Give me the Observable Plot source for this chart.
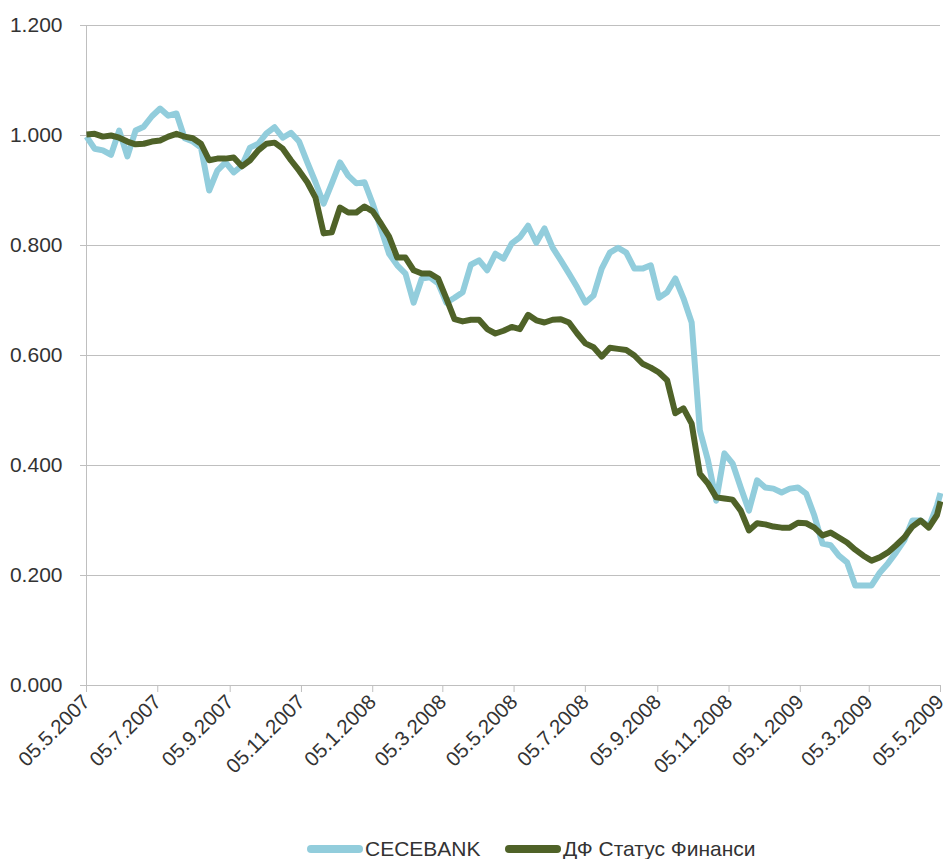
<!DOCTYPE html>
<html>
<head>
<meta charset="utf-8">
<script src="https://cdn.jsdelivr.net/npm/d3@7"></script>
<script src="https://cdn.jsdelivr.net/npm/@observablehq/plot@0.6"></script>
<style>
  body { margin: 0; background: #fff; font-family: "Liberation Sans", Arial, sans-serif; }
  #legend { position: relative; height: 21px; font-size: 21px; color: #333; }
  .item { position: absolute; top: 0; display: flex; align-items: center; height: 21px; white-space: nowrap; }
  .sw { display: inline-block; width: 56px; height: 8px; border-radius: 4px; margin-right: 2px; }
</style>
</head>
<body>
<div id="chart"></div>
<div id="legend"></div>
<script>
// Weekly series, starting 05.5.2007 (last point 05.5.2009)
const startDate = "2007-05-05";
const endDate = "2009-05-05";
const seriesNames = ["CECEBANK", "ДФ Статус Финанси"];
const cecebank = [
  0.998, 0.976, 0.973, 0.965, 1.009, 0.962, 1.009, 1.016, 1.035, 1.049,
  1.036, 1.040, 0.995, 0.989, 0.978, 0.900, 0.936, 0.951, 0.933, 0.945,
  0.978, 0.985, 1.004, 1.015, 0.996, 1.005, 0.989, 0.951, 0.915, 0.876,
  0.913, 0.951, 0.927, 0.913, 0.915, 0.876, 0.831, 0.785, 0.764, 0.749,
  0.696, 0.740, 0.742, 0.731, 0.696, 0.705, 0.715, 0.765, 0.773, 0.755,
  0.785, 0.776, 0.804, 0.815, 0.836, 0.805, 0.831, 0.796, 0.773, 0.749,
  0.724, 0.696, 0.709, 0.758, 0.787, 0.796, 0.787, 0.758, 0.758, 0.764,
  0.705, 0.715, 0.740, 0.704, 0.660, 0.464, 0.409, 0.336, 0.422, 0.404,
  0.360, 0.318, 0.373, 0.360, 0.358, 0.351, 0.358, 0.360, 0.349, 0.309,
  0.258, 0.255, 0.236, 0.224, 0.182, 0.182, 0.182, 0.205, 0.222, 0.242,
  0.264, 0.300, 0.300, 0.289, 0.327, 0.350
];
const statusFinansi = [
  1.002, 1.003, 0.998, 1.000, 0.996, 0.989, 0.984, 0.985, 0.989, 0.991,
  0.998, 1.003, 0.998, 0.995, 0.985, 0.955, 0.958, 0.958, 0.960, 0.944,
  0.955, 0.973, 0.985, 0.987, 0.976, 0.955, 0.936, 0.915, 0.887, 0.822,
  0.824, 0.869, 0.860, 0.860, 0.871, 0.862, 0.840, 0.816, 0.778, 0.778,
  0.755, 0.749, 0.749, 0.740, 0.704, 0.666, 0.662, 0.665, 0.665, 0.648,
  0.640, 0.645, 0.652, 0.648, 0.674, 0.664, 0.660, 0.665, 0.666, 0.660,
  0.640, 0.622, 0.615, 0.598, 0.614, 0.612, 0.610, 0.600, 0.585, 0.578,
  0.569, 0.555, 0.495, 0.504, 0.476, 0.385, 0.367, 0.342, 0.340, 0.338,
  0.318, 0.282, 0.295, 0.293, 0.289, 0.287, 0.287, 0.296, 0.295, 0.287,
  0.273, 0.278, 0.269, 0.260, 0.247, 0.236, 0.227, 0.233, 0.242, 0.255,
  0.269, 0.289, 0.300, 0.287, 0.310, 0.335
];
const colors = ["#92CDDC", "#4F6228"];
const yTicks = [0, 0.2, 0.4, 0.6, 0.8, 1.0, 1.2];
const xTickLabels = ["05.5.2007","05.7.2007","05.9.2007","05.11.2007","05.1.2008","05.3.2008",
  "05.5.2008","05.7.2008","05.9.2008","05.11.2008","05.1.2009","05.3.2009","05.5.2009"];

// build dates: weekly from start, final point on end date
const d0 = new Date(startDate + "T00:00:00Z");
const dEnd = new Date(endDate + "T00:00:00Z");
const dates = cecebank.map((_, i) => i === cecebank.length - 1 ? dEnd : d3.utcDay.offset(d0, 7 * i));
const parseTick = s => { const [d, m, y] = s.split("."); return new Date(Date.UTC(+y, +m - 1, +d)); };
const xTicks = xTickLabels.map(parseTick);
const fmtX = d3.utcFormat("%d.%-m.%Y");

const rows = [];
[cecebank, statusFinansi].forEach((arr, s) => arr.forEach((v, i) => rows.push({date: dates[i], value: v, series: seriesNames[s]})));

const font = "Liberation Sans, Arial, sans-serif";
const chart = Plot.plot({
  width: 943,
  height: 838,
  marginLeft: 86,
  marginRight: 3,
  marginTop: 25,
  marginBottom: 153,
  style: {fontFamily: font, fontSize: "20px", color: "#333", background: "#fff", overflow: "visible"},
  x: {type: "utc", domain: [d0, dEnd]},
  y: {domain: [0, 1.2]},
  color: {domain: seriesNames, range: colors},
  marks: [
    Plot.gridY(yTicks, {stroke: "#bfbfbf", strokeOpacity: 1, strokeWidth: 1}),
    Plot.ruleX([d0], {stroke: "#bfbfbf", strokeWidth: 1}),
    Plot.ruleY([0], {stroke: "#bfbfbf", strokeWidth: 1}),
    Plot.axisY(yTicks, {tickFormat: d3.format(".3f"), tickSize: 6, tickPadding: 18, stroke: "#bfbfbf", fill: "#333", fontSize: 21, label: null}),
    Plot.axisX(xTicks, {tickFormat: fmtX, tickRotate: -45, tickSize: 7, tickPadding: 6, stroke: "#bfbfbf", fill: "#333", fontSize: 20.5, label: null}),
    Plot.line(rows, {x: "date", y: "value", z: "series", stroke: "series", strokeWidth: 6, strokeLinejoin: "round", strokeLinecap: "butt"})
  ]
});
document.getElementById("chart").appendChild(chart);

const legend = document.getElementById("legend");
const lefts = [307, 505];
seriesNames.forEach((n, i) => {
  const it = document.createElement("div");
  it.className = "item";
  it.style.left = lefts[i] + "px";
  it.innerHTML = `<span class="sw" style="background:${colors[i]}"></span><span>${n}</span>`;
  legend.appendChild(it);
});
</script>
</body>
</html>
